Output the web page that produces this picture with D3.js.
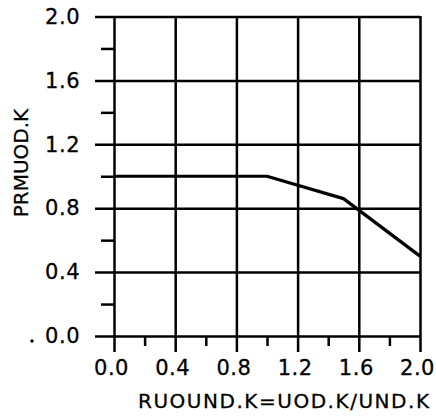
<!DOCTYPE html>
<html>
<head>
<meta charset="utf-8">
<script src="https://cdn.jsdelivr.net/npm/d3@7/dist/d3.min.js"></script>
<style>
  html, body { margin: 0; padding: 0; background: #fff; }
  svg { display: block; }
  text { font-family: "DejaVu Sans", sans-serif; fill: #000; }
</style>
</head>
<body>
<svg id="chart" width="436" height="420"></svg>
<script>
// Table function: multiplier PRMUOD.K against ratio RUOUND.K
const ratio = [0.0, 1.0, 1.5, 2.0];
const multiplier = [1.0, 1.0, 0.86, 0.5];

const majorTicks = [0.0, 0.4, 0.8, 1.2, 1.6, 2.0];
const minorTicks = [0.2, 0.6, 1.0, 1.4, 1.8];
const xTitle = "RUOUND.K=UOD.K/UND.K";
const yTitle = "PRMUOD.K";

const svg = d3.select("#chart");
const x = d3.scaleLinear().domain([0, 2]).range([114, 420]);
const y = d3.scaleLinear().domain([0, 2]).range([336, 16.5]);
const fmt = d3.format(".1f");
const lineW = 2.5;

// horizontal grid + y labels
const gy = svg.append("g")
  .attr("transform", "translate(420,0)")
  .call(d3.axisLeft(y).tickValues(majorTicks).tickSize(325).tickPadding(15).tickFormat(fmt));
gy.select(".domain").remove();
gy.selectAll("line").attr("stroke", "#000").attr("stroke-width", lineW);
gy.selectAll("text").attr("font-size", 21).attr("letter-spacing", 0.5)
  .attr("stroke", "#000").attr("stroke-width", 0.3);

// vertical grid + x labels
const gx = svg.append("g")
  .attr("transform", "translate(0,16)")
  .call(d3.axisBottom(x).tickValues(majorTicks).tickSize(336).tickPadding(8).tickFormat(fmt));
gx.select(".domain").remove();
gx.selectAll("line").attr("stroke", "#000").attr("stroke-width", lineW);
gx.selectAll("text").attr("font-size", 21).attr("letter-spacing", 0.5).attr("dx", -3)
  .attr("stroke", "#000").attr("stroke-width", 0.3);

// minor ticks
const my = svg.append("g")
  .attr("transform", "translate(114,0)")
  .call(d3.axisLeft(y).tickValues(minorTicks).tickSize(13).tickFormat(""));
my.select(".domain").remove();
my.selectAll("line").attr("stroke", "#000").attr("stroke-width", lineW);

const mx = svg.append("g")
  .attr("transform", "translate(0,336)")
  .call(d3.axisBottom(x).tickValues(minorTicks).tickSize(10).tickFormat(""));
mx.select(".domain").remove();
mx.selectAll("line").attr("stroke", "#000").attr("stroke-width", lineW);

// curve
const pts = ratio.map((r, i) => [r, multiplier[i]]);
svg.append("path")
  .datum(pts)
  .attr("fill", "none")
  .attr("stroke", "#000")
  .attr("stroke-width", 3.2)
  .attr("stroke-linejoin", "round")
  .attr("d", d3.line().x(d => x(d[0])).y(d => y(d[1])));

// stray dot beside the zero label
svg.append("circle").attr("cx", 32).attr("cy", 341).attr("r", 1.7).attr("fill", "#000");

// axis titles
svg.append("text")
  .attr("x", 138).attr("y", 408)
  .attr("font-size", 20)
  .attr("stroke", "#000").attr("stroke-width", 0.3)
  .attr("textLength", 291).attr("lengthAdjust", "spacing")
  .text(xTitle);

svg.append("text")
  .attr("transform", "translate(28,163) rotate(-90)")
  .attr("text-anchor", "middle")
  .attr("font-size", 20)
  .attr("stroke", "#000").attr("stroke-width", 0.3)
  .text(yTitle);
</script>
</body>
</html>
